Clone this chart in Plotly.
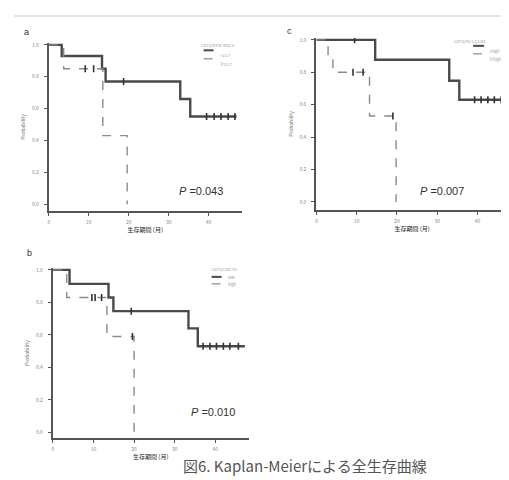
import plotly.graph_objects as go

# ---------------- data ----------------
# Panel a
a_solid_t = [0, 3.2, 13.3, 14.2, 32.9, 35.4, 47.0]
a_solid_s = [1.0, 0.93, 0.85, 0.77, 0.66, 0.55, 0.55]
a_solid_cens_t = [18.7, 39.5, 41.4, 43.1, 44.9, 46.6]
a_solid_cens_s = [0.77, 0.55, 0.55, 0.55, 0.55, 0.55]
a_dash_t = [0, 3.7, 13.5, 19.6, 19.6]
a_dash_s = [1.0, 0.85, 0.43, 0.0, 0.0]
a_dash_cens_t = [9.1, 11.2]
a_dash_cens_s = [0.85, 0.85]

# Panel c
c_solid_t = [0, 14.6, 33.0, 35.5, 47.0]
c_solid_s = [1.0, 0.877, 0.748, 0.63, 0.63]
c_solid_cens_t = [9.5, 39.3, 40.9, 42.6, 44.2, 45.9]
c_solid_cens_s = [1.0, 0.63, 0.63, 0.63, 0.63, 0.63]
c_dash_t = [0, 2.9, 4.1, 13.2, 19.8, 19.8]
c_dash_s = [1.0, 0.9, 0.8, 0.53, 0.0, 0.0]
c_dash_cens_t = [9.1, 11.6, 19.0]
c_dash_cens_s = [0.8, 0.8, 0.53]

# Panel b
b_solid_t = [0, 4.1, 13.7, 14.9, 33.4, 35.7, 47.3]
b_solid_s = [1.0, 0.914, 0.83, 0.746, 0.64, 0.53, 0.53]
b_solid_cens_t = [19.3, 37.0, 38.7, 40.3, 42.0, 43.6, 45.7]
b_solid_cens_s = [0.746, 0.53, 0.53, 0.53, 0.53, 0.53, 0.53]
b_dash_t = [0, 3.4, 13.3, 20.0, 20.0]
b_dash_s = [1.0, 0.83, 0.59, 0.0, 0.0]
b_dash_cens_t = [9.6, 10.4, 12.0, 19.6]
b_dash_cens_s = [0.83, 0.83, 0.83, 0.59]

p_values = ["0.043", "0.007", "0.010"]
panel_labels = ["a", "c", "b"]
legend_titles = ["CD73/NT5E MGC3", "CD73/PD-L1/CD8", "CD73/CD8 TIL"]
legend_names = [["<23.7", "≥23.7"], ["<high", "≥high"], ["low", "high"]]
x_ticks = [0, 10, 20, 30, 40]
y_ticks = [0.0, 0.2, 0.4, 0.6, 0.8, 1.0]
y_ticklabels = ["0.0", "0.2", "0.4", "0.6", "0.8", "1.0"]
x_title = "生存期間 (月)"
y_title = "Probability"
caption = "図6. Kaplan-Meierによる全生存曲線"

W, H = 509, 480

def px_x(p):
    return p / W

def px_y(p):
    return 1 - p / H

SOLID_C, DASH_C = "#4a4a4a", "#8a8a8a"

panels = [
    dict(xa="x", ya="y", xd=[40, 233], yd=[33, 202], xr=[0, 48.25], yr=[-0.044, 1.0125],
         solid=(a_solid_t, a_solid_s, a_solid_cens_t, a_solid_cens_s),
         dash=(a_dash_t, a_dash_s, a_dash_cens_t, a_dash_cens_s),
         leg=dict(title=(209, 30), x0=195, x1=205, tx=209, rows=(40.5, 49)),
         p_xy=(192, 182), lab_xy=(13, 15)),
    dict(xa="x2", ya="y2", xd=[308, 500], yd=[28, 201], xr=[0, 47.6], yr=[-0.051, 1.0123],
         solid=(c_solid_t, c_solid_s, c_solid_cens_t, c_solid_cens_s),
         dash=(c_dash_t, c_dash_s, c_dash_cens_t, c_dash_cens_s),
         leg=dict(title=(480, 26), x0=465, x1=476, tx=479, rows=(36, 44)),
         p_xy=(458, 182), lab_xy=(281, 14)),
    dict(xa="x3", ya="y3", xd=[44, 240], yd=[259, 430], xr=[0, 48.2], yr=[-0.037, 1.0123],
         solid=(b_solid_t, b_solid_s, b_solid_cens_t, b_solid_cens_s),
         dash=(b_dash_t, b_dash_s, b_dash_cens_t, b_dash_cens_s),
         leg=dict(title=(216, 260), x0=203, x1=213, tx=217, rows=(268, 275)),
         p_xy=(204, 412), lab_xy=(16, 244)),
]

fig = go.Figure()
layout = dict(
    width=W, height=H, margin=dict(l=0, r=0, t=0, b=0),
    paper_bgcolor="white", plot_bgcolor="white", showlegend=False,
    font=dict(family="Noto Sans CJK JP, Noto Sans, sans-serif", color="#666"),
)
annotations = []
shapes = [dict(type="line", xref="paper", yref="paper",
               x0=px_x(5), x1=1, y0=px_y(6), y1=px_y(6),
               line=dict(color="#dddddd", width=1.5))]

for i, pn in enumerate(panels):
    for kind, data, color, width, dash in [
        ("solid", pn["solid"], SOLID_C, 2.4, "solid"),
        ("dash", pn["dash"], DASH_C, 1.4, "dash"),
    ]:
        t, s, ct, cs = data
        fig.add_trace(go.Scatter(
            x=t, y=s, mode="lines", line=dict(color=color, width=width, dash=dash, shape="hv"),
            xaxis=pn["xa"], yaxis=pn["ya"]))
        fig.add_trace(go.Scatter(
            x=ct, y=cs, mode="markers",
            marker=dict(symbol="line-ns-open", size=5, color="#333",
                        line=dict(color="#333", width=1.6)),
            xaxis=pn["xa"], yaxis=pn["ya"]))

    xkey = "xaxis" + ("" if i == 0 else str(i + 1))
    ykey = "yaxis" + ("" if i == 0 else str(i + 1))
    layout[xkey] = dict(
        domain=[px_x(pn["xd"][0]), px_x(pn["xd"][1])], range=pn["xr"], anchor=pn["ya"],
        showline=True, linecolor="#555", linewidth=2, ticks="outside", ticklen=3,
        tickcolor="#555", tickwidth=1.2, tickvals=x_ticks, showgrid=False, zeroline=False,
        tickfont=dict(size=5, color="#888"), ticklabelstandoff=2,
        title=dict(text=x_title, font=dict(size=6, color="#222"), standoff=2))
    layout[ykey] = dict(
        domain=[px_y(pn["yd"][1]), px_y(pn["yd"][0])], range=pn["yr"], anchor=pn["xa"],
        showline=True, linecolor="#555", linewidth=2, ticks="outside", ticklen=3,
        tickcolor="#555", tickwidth=1.2, tickvals=y_ticks, ticktext=y_ticklabels,
        showgrid=False, zeroline=False, tickfont=dict(size=5, color="#888"),
        ticklabelstandoff=4,
        title=dict(text=y_title, font=dict(size=5, color="#777"), standoff=6))

    # manual legend
    lg = pn["leg"]
    annotations.append(dict(
        x=px_x(lg["title"][0]), y=px_y(lg["title"][1]), xref="paper", yref="paper",
        text=legend_titles[i], showarrow=False, font=dict(size=4, color="#999")))
    for r, (ry, col, dsh, wd) in enumerate(zip(lg["rows"], [SOLID_C, DASH_C],
                                                ["solid", "dash"], [2, 1.2])):
        shapes.append(dict(type="line", xref="paper", yref="paper",
                           x0=px_x(lg["x0"]), x1=px_x(lg["x1"]), y0=px_y(ry), y1=px_y(ry),
                           line=dict(color=col, width=wd, dash=dsh)))
        annotations.append(dict(
            x=px_x(lg["tx"]), y=px_y(ry), xref="paper", yref="paper", xanchor="left",
            text=legend_names[i][r], showarrow=False, font=dict(size=4, color="#999")))

    annotations.append(dict(
        x=px_x(pn["p_xy"][0]), y=px_y(pn["p_xy"][1]), xref="paper", yref="paper",
        text="<i>P</i> =" + p_values[i], showarrow=False,
        font=dict(size=11, color="#333", family="Liberation Sans, Arial")))
    annotations.append(dict(
        x=px_x(pn["lab_xy"][0]), y=px_y(pn["lab_xy"][1]), xref="paper", yref="paper",
        text=panel_labels[i], showarrow=False,
        font=dict(size=9, color="#333", family="Liberation Sans, Arial")))

annotations.append(dict(
    x=px_x(297), y=px_y(470), xref="paper", yref="paper", text=caption, showarrow=False,
    font=dict(size=15, color="#555", family="Noto Sans CJK JP")))

layout["annotations"] = annotations
layout["shapes"] = shapes
fig.update_layout(**layout)
fig.write_html("out.html")
